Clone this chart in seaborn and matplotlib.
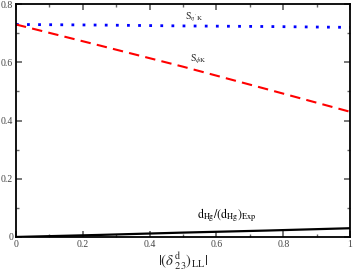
import matplotlib
matplotlib.use("Agg")
from matplotlib import pyplot as plt
from matplotlib.ticker import MultipleLocator
import seaborn as sns
import pandas as pd

# values
delta = [0.0, 0.25, 0.5, 0.75, 1.0]
s_etak = [0.730, 0.728, 0.725, 0.723, 0.720]
s_phik = [0.730, 0.658, 0.585, 0.508, 0.430]
d_hg = [0.0, 0.007, 0.015, 0.022, 0.030]

sns.set_theme(style="ticks")
plt.rcParams['font.family'] = ['Liberation Serif', 'DejaVu Serif']
plt.rcParams['mathtext.fontset'] = 'stix'

df = pd.DataFrame({'delta': delta, 'etak': s_etak, 'phik': s_phik, 'dhg': d_hg})

fig = plt.figure(figsize=(3.54, 2.73), dpi=100)
ax = fig.add_axes([0.045, 0.132, 0.944, 0.853])

sns.lineplot(data=df, x='delta', y='etak', ax=ax, color='blue', linestyle=(0, (1, 3)), linewidth=2.0)
sns.lineplot(data=df, x='delta', y='phik', ax=ax, color='red', linestyle=(0, (5, 3)), linewidth=1.5)
sns.lineplot(data=df, x='delta', y='dhg', ax=ax, color='black', linewidth=1.6)

ax.set_xlim(0, 1)
ax.set_ylim(0, 0.8)
ax.xaxis.set_minor_locator(MultipleLocator(0.1))
ax.yaxis.set_minor_locator(MultipleLocator(0.1))
ax.set_xticks([0, 0.2, 0.4, 0.6, 0.8, 1.0])
ax.set_xticklabels(['0', '0.2', '0.4', '0.6', '0.8', '1'])
ax.set_yticks([0, 0.2, 0.4, 0.6, 0.8])
ax.set_yticklabels(['0', '0.2', '0.4', '0.6', '0.8'])
ax.tick_params(which='both', direction='in', top=True, right=True, labelsize=7,
               labelcolor='#444444', color='#666666')
ax.tick_params(which='major', length=4, pad=2)
ax.tick_params(which='minor', length=2)
for sp in ax.spines.values():
    sp.set_linewidth(1.3)
    sp.set_color('black')

ax.set_xlabel(r'$|(\delta^{\mathrm{d}}_{\ 23})_{\mathrm{LL}}|$', fontsize=10.5, labelpad=1)
ax.set_ylabel('')

ax.text(0.506, 0.748, r"$\mathrm{S}_{\eta' \mathrm{K}}$", fontsize=7, color='#333333')
ax.text(0.521, 0.604, r"$\mathrm{S}_{\phi \mathrm{K}}$", fontsize=7, color='#333333')
ax.text(0.542, 0.063, r"$\mathrm{d}_{\mathrm{Hg}}/(\mathrm{d}_{\mathrm{Hg}})_{\mathrm{Exp}}$", fontsize=8.5, color='black')

fig.savefig('out.png', dpi=100)
